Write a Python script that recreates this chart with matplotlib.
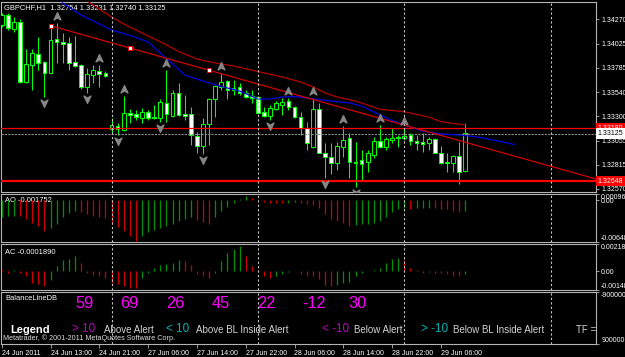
import matplotlib
matplotlib.use("Agg")
import matplotlib.pyplot as plt
import matplotlib.transforms as mtransforms
from matplotlib.path import Path
import numpy as np

plt.rcParams["font.family"] = ["Liberation Sans", "DejaVu Sans"]

W, H = 625, 357

# GBPCHF H1, 24 Jun 2011 05:00 .. 29 Jun 2011 10:00 (one entry per bar)
opens = [1.3421, 1.3431, 1.3417, 1.3424, 1.3364, 1.3381, 1.3392, 1.3384, 1.3373, 1.3407,
         1.3404, 1.3403, 1.3384, 1.3381, 1.3359, 1.3371, 1.3375, 1.3373, 1.3317, 1.3320,
         1.3316, 1.3333, 1.3332, 1.3328, 1.3334, 1.3329, 1.3328, 1.3343, 1.3330, 1.3353,
         1.3332, 1.3332, 1.3310, 1.3300, 1.3322, 1.3347, 1.3359, 1.3365, 1.3358, 1.3359,
         1.3353, 1.3350, 1.3349, 1.3334, 1.3330, 1.3337, 1.3341, 1.3345, 1.3339, 1.3329,
         1.3318, 1.3299, 1.3337, 1.3293, 1.3289, 1.3283, 1.3299, 1.3308, 1.3284, 1.3286,
         1.3284, 1.3291, 1.3305, 1.3299, 1.3306, 1.3309, 1.3308, 1.3311, 1.3305, 1.3304,
         1.3303, 1.3307, 1.3293, 1.3284, 1.3283, 1.3290, 1.32754]
highs = [1.3433, 1.3433, 1.3429, 1.3427, 1.3397, 1.3397, 1.3409, 1.3385, 1.3420, 1.3423,
         1.3413, 1.3409, 1.3410, 1.3382, 1.3378, 1.3381, 1.3381, 1.3375, 1.3328, 1.3323,
         1.3350, 1.3337, 1.3336, 1.3338, 1.3336, 1.3341, 1.3347, 1.3376, 1.3356, 1.3363,
         1.3351, 1.3339, 1.3314, 1.3328, 1.3348, 1.3361, 1.3373, 1.3366, 1.3366, 1.3363,
         1.3356, 1.3356, 1.3350, 1.3339, 1.3341, 1.3345, 1.3348, 1.3348, 1.3340, 1.3334,
         1.3324, 1.3348, 1.3343, 1.3303, 1.3303, 1.3304, 1.3320, 1.3313, 1.3304, 1.3296,
         1.3296, 1.3309, 1.3321, 1.3309, 1.3318, 1.3311, 1.3318, 1.3313, 1.3311, 1.3313,
         1.3309, 1.3308, 1.3300, 1.3293, 1.3291, 1.3304, 1.33231]
lows = [1.3419, 1.3416, 1.3414, 1.3363, 1.3363, 1.3356, 1.3376, 1.3349, 1.3372, 1.3383,
        1.3383, 1.3376, 1.3379, 1.3357, 1.3353, 1.3363, 1.3359, 1.3369, 1.3313, 1.3311,
        1.3315, 1.3323, 1.3326, 1.3323, 1.3326, 1.3327, 1.3324, 1.3324, 1.3329, 1.3330,
        1.3326, 1.3301, 1.3293, 1.3292, 1.3301, 1.3329, 1.3356, 1.3347, 1.3351, 1.3351,
        1.3348, 1.3343, 1.3333, 1.3329, 1.3326, 1.3336, 1.3331, 1.3336, 1.3328, 1.3311,
        1.3296, 1.3298, 1.3293, 1.3268, 1.3272, 1.3276, 1.3289, 1.3268, 1.3259, 1.3266,
        1.3274, 1.3288, 1.3298, 1.3296, 1.3303, 1.3299, 1.3306, 1.3301, 1.3296, 1.3294,
        1.3296, 1.3293, 1.3282, 1.3274, 1.3274, 1.3262, 1.32740]
closes = [1.3431, 1.3418, 1.3424, 1.3364, 1.3382, 1.3393, 1.3383, 1.3373, 1.3406, 1.3404,
          1.3402, 1.3383, 1.3380, 1.3359, 1.3372, 1.3376, 1.3372, 1.3370, 1.3321, 1.3317,
          1.3333, 1.3331, 1.3329, 1.3334, 1.3328, 1.3328, 1.3344, 1.3332, 1.3353, 1.3331,
          1.3330, 1.3311, 1.3300, 1.3322, 1.3347, 1.3360, 1.3364, 1.3356, 1.3356, 1.3353,
          1.3349, 1.3348, 1.3333, 1.3330, 1.3338, 1.3343, 1.3344, 1.3339, 1.3329, 1.3318,
          1.3303, 1.3337, 1.3293, 1.3289, 1.3283, 1.3300, 1.3306, 1.3284, 1.3283, 1.3282,
          1.3293, 1.3305, 1.3299, 1.3307, 1.3308, 1.3308, 1.3310, 1.3305, 1.3303, 1.3302,
          1.3307, 1.3293, 1.3283, 1.3283, 1.3290, 1.3274, 1.33125]

ao_vals = [-0.0026, -0.0024, -0.00238, -0.0025, -0.0029, -0.0035, -0.0040, -0.0047, -0.0043, -0.0037,
           -0.0026, -0.0020, -0.0016, -0.0019, -0.0022, -0.0024, -0.0026, -0.0027, -0.0037, -0.0041,
           -0.0048, -0.0055, -0.0063, -0.0055, -0.0050, -0.0046, -0.0043, -0.0040, -0.0037, -0.0032,
           -0.0029, -0.0026, -0.0030, -0.0034, -0.0037, -0.0026, -0.0016, -0.0011, -0.0004, 0.0002,
           0.0006, 0.0003, 0.0001, -0.0003, -0.0004, -0.00045, -0.0005, -0.0004, -0.0003, -0.0004,
           -0.0006, -0.0008, -0.0012, -0.0021, -0.0029, -0.0033, -0.0035, -0.0040, -0.0038, -0.0037,
           -0.00365, -0.0036, -0.0032, -0.0026, -0.0018, -0.0013, -0.0012, -0.0013, -0.00125, -0.0012,
           -0.00115, -0.0012, -0.0013, -0.0014, -0.0016, -0.0018, -0.00175]
ac_vals = [0.0001, -0.0001, 0.0001, -0.0001, -0.0004, -0.0009, -0.0010, -0.0012, -0.0007, 0.0004,
           0.0009, 0.0010, 0.0012, 0.0007, -0.0001, -0.0003, -0.0004, -0.0005, -0.0009, -0.0010,
           -0.0012, -0.0013, -0.00135, -0.0005, -0.0001, 0.0003, 0.0005, 0.0006, 0.0007, 0.0009,
           0.00085, 0.0005, -0.0002, -0.0004, -0.0005, -0.0001, 0.0008, 0.0015, 0.0018, 0.0020,
           0.0012, 0.0004, 0.0001, -0.00035, -0.0005, -0.00035, -0.0002, -0.00003, 0.00003, -0.0002,
           -0.00035, -0.0004, -0.0006, -0.0011, -0.0012, -0.0011, -0.00095, -0.00085, -0.00035, -0.0001,
           0.00002, 0.0001, 0.0003, 0.0007, 0.0010, 0.0011, 0.0009, 0.0003, 0.0001, -0.0001,
           -0.00005, -0.0001, -0.00012, -0.0002, -0.00035, -0.0004, -0.000189]

# indicator lines (bar index, price)
blue_idx = [10, 13, 16, 18, 20, 22, 24, 26, 28, 30, 33, 36, 39, 42, 44, 46, 48, 50, 52, 54,
            57, 59, 61, 64, 66, 69, 72, 75, 78, 81, 84]
blue_val = [1.3443, 1.3431, 1.3422, 1.3416, 1.34125, 1.34085, 1.3404, 1.3393, 1.3382, 1.3371,
            1.3365, 1.33595, 1.3355, 1.3347, 1.3347, 1.3349, 1.33495, 1.3348, 1.33465, 1.3345,
            1.3343, 1.3340, 1.3334, 1.33255, 1.3321, 1.3315, 1.3312, 1.3311, 1.3309, 1.33055, 1.33015]
red_idx = [14, 18, 20, 23, 26, 29, 32, 35, 38, 42, 46, 49, 51, 53, 55, 58, 60, 62, 66, 70, 72, 76]
red_val = [1.3445, 1.3429, 1.3422, 1.3413, 1.34043, 1.33945, 1.3387, 1.3383, 1.3380, 1.33745,
           1.3369, 1.3364, 1.33593, 1.3353, 1.3349, 1.3345, 1.3341, 1.33367, 1.33343, 1.3329,
           1.33243, 1.3321]
trend_idx = [8, 98]
trend_val = [1.34203, 1.3266]
trend_pts_idx = [8, 21, 34]
trend_pts_val = [1.34203, 1.33981, 1.3376]
resist = 1.33180
support = 1.32648
bid = 1.33125

frac_up = [9, 16, 20, 27, 36, 47, 51, 56, 62, 66]
frac_dn = [7, 14, 19, 26, 33, 44, 53, 58]

day_breaks = [18, 42, 66, 90]
tick_idx = [0, 8, 16, 24, 32, 40, 48, 56, 64, 72]
tick_lbl = ["24 Jun 2011", "24 Jun 13:00", "24 Jun 21:00", "27 Jun 06:00", "27 Jun 14:00",
            "27 Jun 22:00", "28 Jun 06:00", "28 Jun 14:00", "28 Jun 22:00", "29 Jun 06:00"]
price_ticks = [1.34270, 1.34025, 1.33785, 1.33540, 1.33300, 1.33055, 1.32815, 1.32570]

balance_nums = [59, 69, 26, 45, 22, -12, 30]

GREEN = "#00ff00"
FRAME = "#b4b4b4"
BAR_G = "#009000"
BAR_R = "#cc0000"


def px_rect(l, t, r, b):
    return [l / W, 1 - b / H, (r - l) / W, (b - t) / H]


fig = plt.figure(figsize=(W / 100, H / 100), dpi=100)
fig.patch.set_facecolor("black")

# pixel overlay for free text (drawn underneath the panels)
ov = fig.add_axes([0, 0, 1, 1], zorder=-1)
ov.set_xlim(0, W)
ov.set_ylim(H, 0)
ov.axis("off")

xl = ((1.5 - 1.7) / 6.1, (596 - 1.7) / 6.1)


def panel(rect):
    a = fig.add_axes(px_rect(*rect))
    a.set_facecolor("none")
    a.set_xlim(*xl)
    for s in a.spines.values():
        s.set_color(FRAME)
        s.set_linewidth(0.8)
    a.set_xticks([])
    a.tick_params(axis="y", which="both", left=False, labelleft=False, right=True,
                  labelright=True, direction="out", length=2.5, width=0.6, color=FRAME,
                  labelsize=5, labelcolor="white", pad=1.2)
    for d in day_breaks:
        a.axvline(d, color="#c8c8c8", lw=0.8, ls=(0, (2, 2)), zorder=6)
    return a


ax = panel((1.5, 2, 596, 192))
ao_ax = panel((1.5, 194, 596, 242))
ac_ax = panel((1.5, 244, 596, 290))
bx = panel((1.5, 292, 596, 344))

# ---- main price panel
ax.set_ylim(1.3254, 1.3444)
ax.set_yticks(price_ticks)
ax.set_yticklabels(["%.5f" % p for p in price_ticks])

x = np.arange(len(opens))
o = np.array(opens)
c = np.array(closes)
bull = c >= o
ax.vlines(x, lows, highs, color=GREEN, lw=0.75, zorder=3)
ax.bar(x, np.maximum(np.abs(c - o), 0.00003), bottom=np.minimum(o, c), width=0.6,
       color=np.where(bull, "black", "white"), edgecolor=GREEN, linewidth=0.75, zorder=4)

ax.axhline(resist, color="#ff0000", lw=0.9, zorder=5)
ax.axhline(support, color="#ff0000", lw=1.6, zorder=5)
ax.axhline(bid, color="#8c8c8c", lw=0.8, ls=(0, (2, 1)), zorder=5)
ax.plot(blue_idx, blue_val, color="#0000e6", lw=0.9, zorder=5)
ax.plot(red_idx, red_val, color="#b40000", lw=0.9, zorder=5)
ax.plot(trend_idx, trend_val, color="#d20000", lw=0.9, zorder=5)
ax.plot(trend_pts_idx, trend_pts_val, ls="none", marker="s", ms=2.6, mfc="white",
        mec="#ff0000", mew=0.7, zorder=6)

up_arrow = Path([(0, 1), (0.9, -0.9), (0, -0.35), (-0.9, -0.9), (0, 1)],
                [Path.MOVETO, Path.LINETO, Path.LINETO, Path.LINETO, Path.CLOSEPOLY])
dn_arrow = Path([(0, -1), (0.9, 0.9), (0, 0.35), (-0.9, 0.9), (0, -1)],
                [Path.MOVETO, Path.LINETO, Path.LINETO, Path.LINETO, Path.CLOSEPOLY])
hi = np.array(highs)
lo = np.array(lows)
ax.plot(frac_up, hi[frac_up] + 0.0007, ls="none", marker=up_arrow, ms=5.5, color="#868686",
        zorder=6)
ax.plot(frac_dn, lo[frac_dn] - 0.0006, ls="none", marker=dn_arrow, ms=5.5, color="#868686",
        zorder=6)

blend = mtransforms.blended_transform_factory(ax.transAxes, ax.transData)
ax.text(1.003, resist, "%.5f" % resist, transform=blend, color="white", fontsize=5,
        va="center", ha="left", clip_on=False, zorder=8,
        bbox=dict(boxstyle="square,pad=0.25", fc="#ff0000", ec="none"))
ax.text(1.003, bid, "%.5f" % bid, transform=blend, color="black", fontsize=5,
        va="center", ha="left", clip_on=False, zorder=8,
        bbox=dict(boxstyle="square,pad=0.25", fc="white", ec="none"))
ax.text(1.003, support, "%.5f" % support, transform=blend, color="white", fontsize=5,
        va="center", ha="left", clip_on=False, zorder=8,
        bbox=dict(boxstyle="square,pad=0.25", fc="#ff0000", ec="none"))


def osc(a, vals, first_up):
    v = np.array(vals)
    prev = np.concatenate([[v[0] - 1 if first_up else v[0] + 1], v[:-1]])
    cols = np.where(v > prev, BAR_G, BAR_R)
    a.vlines(np.arange(len(v)), 0, v, colors=cols, lw=0.9, zorder=3)


# ---- AO
ao_ax.set_ylim(-0.00648, 0.00096)
ao_ax.set_yticks([0.00096, 0.0, -0.00648])
ao_ax.set_yticklabels(["0.00096", "0.00", "-0.00648"])
osc(ao_ax, ao_vals, True)

# ---- AC
ac_ax.set_ylim(-0.00148, 0.00218)
ac_ax.set_yticks([0.00218, 0.0, -0.00148])
ac_ax.set_yticklabels(["0.00218", "0.00", "-0.00148"])
osc(ac_ax, ac_vals, False)

for a in (ao_ax, ac_ax):
    lbls = a.get_yticklabels()
    lbls[0].set_va("top")
    lbls[-1].set_va("bottom")

# ---- BalanceLineDB panel
bx.set_ylim(0, 1)
bx.set_yticks([1, 0])
bx.set_yticklabels(["-900000", "900000"])
bl = bx.get_yticklabels()
bl[0].set_va("top")
bl[1].set_va("bottom")
bx.set_xticks(tick_idx)
bx.set_xticklabels(tick_lbl)
bx.tick_params(axis="x", bottom=True, direction="out", length=3, width=0.6, color=FRAME,
               labelsize=5, labelcolor="white", pad=1.5)
for t in bx.get_xticklabels():
    t.set_ha("left")

# ---- texts (pixel positions)
ov.text(4, 8, "GBPCHF,H1  1.32754 1.33231 1.32740 1.33125", color="white", fontsize=5.4,
        va="center")
ov.text(5, 200, "AO -0.001752", color="white", fontsize=5.4, va="center")
ov.text(5, 252, "AC -0.0001890", color="white", fontsize=5.4, va="center")
ov.text(5, 298, "BalanceLineDB", color="white", fontsize=5.4, va="center")
for k, n in enumerate(balance_nums):
    ov.text(75 + 45.5 * k, 303, str(n), color="#ff00ff", fontsize=11.8, va="center")

legend_items = [(72, "> 10", "#c000c0", 104, "Above Alert"),
                (166, "< 10", "#00b4b4", 196, "Above BL Inside Alert"),
                (322, "< -10", "#c000c0", 354, "Below Alert"),
                (421, "> -10", "#00b4b4", 453, "Below BL Inside Alert")]
ov.text(10, 330, "Legend", color="white", fontsize=8, fontweight="bold", va="center")
for xs, sym, col, xt, txt in legend_items:
    ov.text(xs, 329.5, sym, color=col, fontsize=8.4, va="center")
    ov.text(xt, 330, txt, color="#d2d2d2", fontsize=7, va="center")
ov.text(576, 330, "TF =", color="#d2d2d2", fontsize=7, va="center")
ov.text(3, 338, "Metatrader, \u00a9 2001-2011 MetaQuotes Software Corp.", color="#dcdcdc",
        fontsize=5.2, va="center")

fig.savefig("out.png", dpi=100, facecolor="black")
